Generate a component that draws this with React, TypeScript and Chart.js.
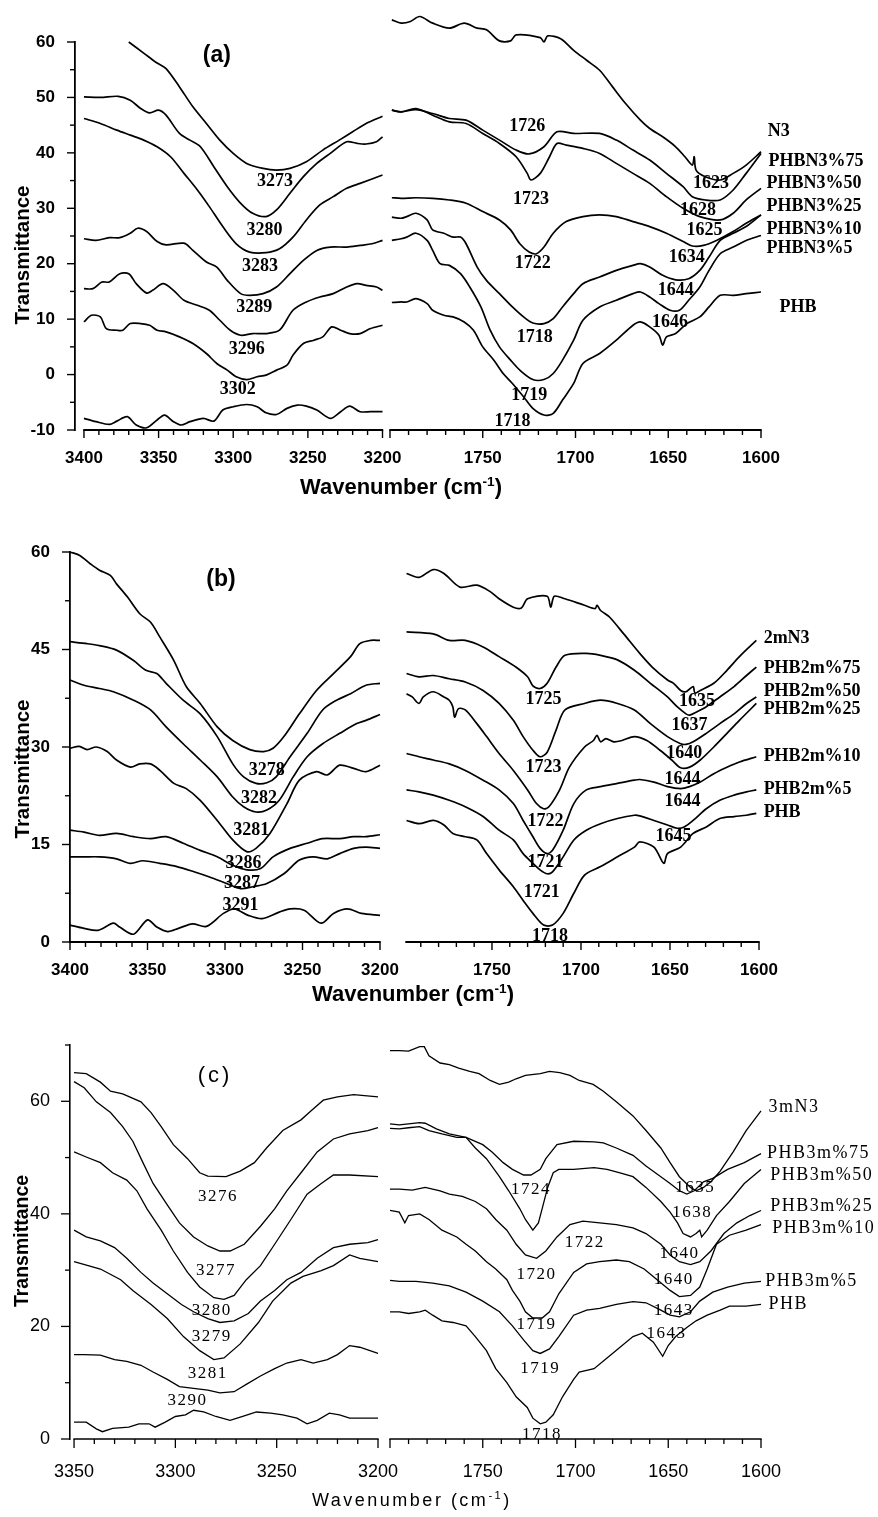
import React, { useEffect, useRef } from 'react';
import { Chart, registerables } from 'chart.js';

Chart.register(...registerables);

type Pt = [number, number];
type Lbl = [string, number, number];

// ---------------- Panel (a): 3400-3200 region ----------------
const A_L_N3: Pt[] = [[3370,60],[3360,58],[3351,56.2],[3345,55.2],[3336,51.9],[3327,48.3],[3318,45.3],[3309,42.3],[3300,39.9],[3291,38.1],[3280,37.2],[3271,36.9],[3262,37.2],[3251,38.4],[3240,40.5],[3229,42.3],[3220,43.8],[3211,45.3],[3200,46.6]];
const A_L_75: Pt[] = [[3400,50.1],[3389,50],[3377,50.2],[3369,49.5],[3362,48],[3356,47.2],[3350,47.7],[3345,46.8],[3336,43.5],[3329,42.3],[3322,41.1],[3313,37.5],[3304,33.9],[3295,30.9],[3287,29.1],[3278,28.5],[3271,29.7],[3262,32.7],[3253,35.7],[3244,38.1],[3235,39.9],[3224,42],[3217,41.7],[3211,41.6],[3204,42],[3200,42.9]];
const A_L_50: Pt[] = [[3400,46.2],[3389,45.3],[3378,44.1],[3369,43.2],[3360,42.3],[3351,41.1],[3342,39.3],[3333,36.3],[3324,33.3],[3316,30.3],[3307,26.7],[3298,23.6],[3289,22.1],[3278,22],[3269,22.7],[3260,24.8],[3251,27.9],[3242,30.6],[3233,32.1],[3224,33.6],[3215,34.5],[3200,36]];
const A_L_25: Pt[] = [[3400,24.5],[3392,24.2],[3383,24.7],[3376,24.7],[3369,25.5],[3364,26.4],[3358,25.8],[3351,24],[3345,23.4],[3333,23.7],[3327,22.4],[3318,20.3],[3311,19.4],[3304,17],[3295,14.6],[3289,14.3],[3280,14.6],[3271,15.8],[3262,18.2],[3253,20.6],[3244,22.4],[3235,23],[3224,23],[3215,23.3],[3207,23.6],[3200,24.2]];
const A_L_10: Pt[] = [[3400,15.5],[3394,15.5],[3388,16.7],[3383,16.7],[3376,18.2],[3370,18.2],[3365,16.4],[3358,14.7],[3354,15.2],[3347,16.4],[3340,15.2],[3333,13.4],[3324,12.5],[3316,11.6],[3309,9.8],[3302,8],[3295,7.1],[3287,7.4],[3278,7.4],[3269,8],[3260,11.6],[3251,13.1],[3242,14],[3233,14.6],[3224,15.8],[3217,16.4],[3211,16.1],[3204,15.8],[3200,15.2]];
const A_L_5: Pt[] = [[3400,9.5],[3395,10.7],[3389,10.4],[3385,8.3],[3378,8],[3374,8],[3369,9.2],[3362,9.2],[3356,8.9],[3351,8],[3345,7.7],[3336,6.8],[3327,5.6],[3318,3.8],[3311,2],[3304,0.8],[3298,-0.4],[3291,-0.9],[3284,-0.4],[3278,-0.1],[3271,0.8],[3264,1.7],[3260,3.5],[3253,5.6],[3246,6.2],[3240,6.8],[3234,8.6],[3228,8],[3222,7.4],[3215,7.4],[3208,8.3],[3200,8.9]];
const A_L_PHB: Pt[] = [[3400,-7.9],[3392,-8.5],[3383,-9],[3378,-8.4],[3371,-7.6],[3365,-9.1],[3358,-9.6],[3351,-8.2],[3346,-7.3],[3340,-8.5],[3335,-9.1],[3329,-8.5],[3320,-7.9],[3313,-8.4],[3307,-6.4],[3300,-5.8],[3291,-5.4],[3284,-5.8],[3278,-6.9],[3271,-7.2],[3264,-6.1],[3257,-5.5],[3251,-5.7],[3244,-6.4],[3235,-7.9],[3228,-6.7],[3222,-5.7],[3215,-6.7],[3208,-6.7],[3200,-6.7]];

// ---------------- Panel (a): 1800-1600 region ----------------
const A_R_N3: Pt[] = [[1799,64],[1794,63.4],[1789,63.7],[1784,64.6],[1777,63.4],[1768,62.5],[1760,63.4],[1753,62.5],[1748,62.2],[1741,60.2],[1735,60.2],[1732,61.3],[1719,60.8],[1717,60],[1715,61.1],[1708,60.6],[1701,58.5],[1694,56.7],[1687,54.9],[1680,51.9],[1673,48.9],[1665,45.9],[1660,44.4],[1653,42.9],[1646,41.1],[1641,39.3],[1637,37.8],[1636,39.3],[1635,36.9],[1630,35.7],[1622,35.1],[1615,36.3],[1608,37.8],[1600,40.2]];
const A_R_75: Pt[] = [[1799,47.7],[1794,47.4],[1786,47.8],[1777,47.1],[1768,46.2],[1759,45.9],[1750,44.1],[1741,42.3],[1732,40.5],[1725,39.8],[1717,41.1],[1710,43.8],[1701,43.5],[1687,43.5],[1678,42.3],[1669,40.5],[1660,38.7],[1651,36.3],[1642,33.9],[1637,32.1],[1630,31.5],[1622,31.5],[1615,33.3],[1608,36.3],[1600,39.9]];
const A_R_50: Pt[] = [[1799,47.7],[1794,47.4],[1786,48],[1777,46.8],[1768,45.6],[1759,45.3],[1750,43.5],[1741,41.7],[1732,39.3],[1726,36.3],[1724,35.1],[1719,36.3],[1714,39.3],[1710,41.7],[1705,41.4],[1696,40.8],[1687,39.9],[1678,38.1],[1669,36.3],[1660,34.5],[1651,32.1],[1642,30],[1633,28.5],[1622,27.9],[1615,29.1],[1608,31.5],[1600,33.6]];
const A_R_25: Pt[] = [[1799,31.9],[1794,31.8],[1786,31.9],[1777,31.8],[1768,31.5],[1759,30.9],[1750,29.4],[1741,27.9],[1735,26.1],[1730,23.6],[1725,22.1],[1721,21.8],[1717,23],[1712,25.5],[1705,27.6],[1696,28.5],[1687,28.8],[1678,28.5],[1669,27.6],[1660,26.7],[1651,25.5],[1642,24],[1637,23.2],[1631,23.3],[1624,24.2],[1615,25.8],[1608,27.3],[1600,28.8]];
const A_R_10: Pt[] = [[1799,28.4],[1794,28.2],[1791,28.5],[1786,29.1],[1780,27.9],[1777,26.1],[1771,25.5],[1766,24.8],[1762,24.8],[1759,23.6],[1753,19.4],[1748,17],[1741,14.6],[1734,12.2],[1728,10.4],[1723,9.3],[1717,9.2],[1712,10.1],[1707,12.2],[1701,14.6],[1696,16.4],[1687,17.6],[1678,18.8],[1669,19.7],[1665,20],[1660,19.4],[1653,17.9],[1646,17.1],[1639,17.3],[1633,18.8],[1628,21.2],[1622,24.2],[1615,25.5],[1608,26.7],[1600,28.8]];
const A_R_5: Pt[] = [[1799,24.2],[1794,24.5],[1791,24.8],[1786,25.5],[1780,24.2],[1777,22.4],[1773,20],[1768,19.7],[1762,18.2],[1757,15.8],[1751,12.2],[1746,8],[1741,5],[1735,2.6],[1730,0.8],[1723,-0.9],[1717,-0.9],[1712,0.2],[1707,2.6],[1701,6.2],[1696,9.8],[1687,12.2],[1678,13.4],[1669,14.6],[1665,14.9],[1660,14],[1655,12.8],[1649,11.6],[1644,11.6],[1639,13.4],[1633,15.8],[1628,18.8],[1622,21.8],[1615,23],[1608,24.2],[1600,25.1]];
const A_R_PHB: Pt[] = [[1799,13],[1794,13.1],[1791,13.1],[1786,13.7],[1780,12.8],[1777,11.6],[1771,10.7],[1766,10.4],[1760,9.5],[1755,8],[1750,5],[1744,2.6],[1739,0.2],[1734,-1.6],[1728,-4],[1723,-6.1],[1717,-7.3],[1712,-7],[1707,-4.6],[1701,-1.6],[1696,2],[1687,3.8],[1678,6.2],[1669,8.9],[1665,9.5],[1660,8.6],[1655,7.1],[1653,5.3],[1651,6.8],[1646,7.4],[1640,9.2],[1633,10.4],[1628,12.2],[1622,14.3],[1615,14.3],[1608,14.6],[1600,14.9]];

const A_L_PEAKS: Lbl[] = [['3273',3272,34.8],['3280',3279,26.1],['3283',3282,19.6],['3289',3286,12.1],['3296',3291,4.5],['3302',3297,-2.7]];
const A_R_PEAKS: Lbl[] = [['1726',1726,44.7],['1723',1724,31.6],['1722',1723,20],['1718',1722,6.7],['1719',1725,-3.7],['1718',1734,-8.4],['1623',1627,34.5],['1628',1634,29.7],['1625',1630.5,26.1],['1634',1640,21.2],['1644',1646,15.2],['1646',1649,9.5]];
const A_NAMES: Lbl[] = [['N3',1596.4,43.8],['PHBN3%75',1596,38.4],['PHBN3%50',1597,34.5],['PHBN3%25',1597,30.3],['PHBN3%10',1597,26.2],['PHBN3%5',1597,22.7],['PHB',1590,12.2]];

// ---------------- Panel (b): 3400-3200 region ----------------
const B_L_N3: Pt[] = [[3400,60],[3394,59.5],[3387,58.2],[3381,57.2],[3374,56.4],[3370,55.1],[3363,53.1],[3355,50.5],[3348,49.2],[3342,46.9],[3333,43.3],[3325,39.3],[3316,36.7],[3305,33.1],[3295,31],[3284,29.6],[3275,29.3],[3269,29.8],[3262,31.6],[3252,35.1],[3241,38.7],[3230,41.3],[3219,43.9],[3213,45.9],[3206,46.4],[3200,46.4]];
const B_L_75: Pt[] = [[3400,46.2],[3389,45.9],[3381,45.6],[3370,44.9],[3359,43.3],[3351,41.8],[3344,41.3],[3338,39.8],[3327,37.2],[3316,35.1],[3305,31.6],[3295,27.4],[3288,25.4],[3280,24.4],[3273,24.5],[3267,25.4],[3258,28.5],[3247,32.1],[3237,35.7],[3228,37.2],[3219,38.2],[3209,39.5],[3200,39.8]];
const B_L_50: Pt[] = [[3400,40.3],[3391,39.5],[3381,39],[3372,38.5],[3359,37.2],[3348,35.7],[3338,33.1],[3327,30.5],[3316,28],[3305,25.4],[3295,22.3],[3288,20.8],[3280,20],[3273,20.3],[3265,21.8],[3256,25.4],[3247,28.5],[3237,30.5],[3226,32.1],[3215,33.6],[3209,34.1],[3200,35]];
const B_L_25: Pt[] = [[3400,29.8],[3394,30.1],[3389,29.6],[3383,30],[3376,29.3],[3370,28],[3361,26.9],[3355,27.4],[3348,27.4],[3342,26.4],[3333,24.4],[3325,23.6],[3316,21.8],[3305,18.7],[3295,15.7],[3286,13.9],[3280,14.4],[3271,16.7],[3260,21.3],[3252,24.9],[3241,26.2],[3234,25.7],[3226,27.2],[3217,26.7],[3209,26.2],[3200,27.2]];
const B_L_10: Pt[] = [[3400,17.2],[3391,16.9],[3381,16.4],[3370,16.7],[3359,16.2],[3348,15.9],[3338,16.2],[3327,15.2],[3316,14.1],[3305,13.1],[3295,11.8],[3286,11.1],[3277,11.3],[3269,13.1],[3258,14.4],[3247,15.2],[3237,15.9],[3226,15.9],[3217,16.2],[3209,16.2],[3200,16.5]];
const B_L_5: Pt[] = [[3400,13.1],[3391,13.1],[3381,13.1],[3370,12.8],[3361,12.1],[3353,12.5],[3342,12.1],[3331,11.6],[3320,10.8],[3310,10],[3299,9],[3290,8.2],[3282,8.5],[3273,9],[3262,10.5],[3252,12.6],[3243,13.1],[3234,12.8],[3226,13.6],[3217,14.4],[3209,14.6],[3200,14.4]];
const B_L_PHB: Pt[] = [[3400,2.6],[3391,2.1],[3382,1.8],[3372,2.9],[3368,2.3],[3359,1.2],[3350,3.4],[3344,2.3],[3337,1.6],[3330,2.1],[3321,2.8],[3312,2.4],[3301,4.4],[3294,5.1],[3285,4.1],[3276,3.6],[3265,4.6],[3258,5.1],[3249,4.9],[3238,2.9],[3230,4.4],[3221,5.1],[3212,4.4],[3200,4.1]];

// ---------------- Panel (b): 1800-1600 region ----------------
const B_R_N3: Pt[] = [[1798,56.7],[1791,56.1],[1783,57.3],[1777,56.7],[1768,54.6],[1758.5,54.9],[1751,53.9],[1746,52.8],[1738,51.5],[1733.5,51.4],[1730,52.8],[1719,53.2],[1717,51.5],[1715,53.2],[1709,52.8],[1698,51.8],[1692,51.3],[1691,51.8],[1689,51],[1684,50],[1676,47.4],[1667,44.4],[1660,42.3],[1651.4,40.3],[1648,39.8],[1644,38.7],[1641,38.5],[1637,39.3],[1636,38.3],[1633,38.7],[1625.4,39.8],[1618,41.8],[1611,43.9],[1601.5,46.4]];
const B_R_75: Pt[] = [[1798,47.7],[1783,47.4],[1774,46.4],[1765,46.4],[1755,45.4],[1746,43.9],[1736.6,42.3],[1730,40.8],[1727,39.4],[1723,39],[1719,39.8],[1714,42.3],[1709,44.1],[1697,44.4],[1689,44.1],[1679.5,43.4],[1670,41.8],[1661,39.8],[1651.4,37.7],[1646,36.2],[1641,35.1],[1639,34.9],[1635,35.4],[1629.6,36.2],[1622,37.7],[1614,39.3],[1607,41],[1601.5,42.3]];
const B_R_50: Pt[] = [[1798,41.3],[1791,40.8],[1783,41],[1774,40.5],[1765,40],[1755,38.7],[1746,36.7],[1738,34.1],[1732.5,31.6],[1727,29.5],[1723,28.5],[1719,29.2],[1714,32.6],[1709,35.7],[1698,36.7],[1689,37.2],[1679.5,36.7],[1670,35.7],[1661,33.6],[1651.4,31.6],[1644,30.5],[1641,30.4],[1637,30.8],[1629.6,32.1],[1622,33.6],[1614,35.1],[1607,36.7],[1601.5,37.7]];
const B_R_25: Pt[] = [[1798,38.2],[1794.8,37.7],[1791,36.7],[1788.6,37.7],[1783,38.5],[1777,37.7],[1774,37.2],[1772,36.2],[1771,34.6],[1768.8,35.9],[1765,35.7],[1758.5,33.6],[1753,31.6],[1746,29],[1738,26.4],[1730,23.4],[1725,21.3],[1721,20.5],[1718,20.8],[1712,23.4],[1706.5,26.9],[1698,30],[1693,31],[1691,31.8],[1689,30.8],[1686,31.3],[1681.5,30.8],[1677,31],[1670,31.6],[1663,31],[1655.6,29.5],[1649,28],[1644,26.8],[1639,26.9],[1633,28],[1625.4,30],[1618,32.1],[1611,34.1],[1601.5,36.7]];
const B_R_10: Pt[] = [[1798,29],[1791,28.5],[1783,28],[1774,27.4],[1765,26.4],[1755,24.9],[1746,23.4],[1738,21.3],[1732.5,18.7],[1727,16.2],[1723,14.4],[1719,13.6],[1716,14.1],[1710,17.2],[1704,21.3],[1697,23.4],[1689,23.9],[1679.5,24.4],[1670,24.9],[1667,25],[1659,24.6],[1651.4,23.9],[1644,23.6],[1639,23.9],[1633,24.6],[1625.4,25.9],[1618,26.9],[1611,27.7],[1601.5,28.5]];
const B_R_5: Pt[] = [[1798,23.4],[1791,23.1],[1783,22.6],[1774,21.8],[1765,20.8],[1755,19.3],[1746,17.2],[1738,15.7],[1732.5,13.6],[1727,12.1],[1723,11.1],[1719,10.5],[1716,10.8],[1710,13.1],[1704,15.7],[1697,17.2],[1689,18.2],[1679.5,19],[1670,19.5],[1667,19.4],[1659,18.7],[1651.4,18],[1646,17.5],[1642,17.7],[1637,18.7],[1629.6,20.5],[1622,21.8],[1614,22.6],[1607,23.1],[1601.5,23.4]];
const B_R_PHB: Pt[] = [[1798,18.7],[1791,18.2],[1783,18.7],[1777,18],[1772,16.7],[1765,16.2],[1758.5,15.7],[1753,13.6],[1746,11.1],[1738,8.5],[1732.5,6.4],[1727,4.4],[1721,2.6],[1716,2.6],[1710,4.4],[1704,7.5],[1698,10.3],[1689,11.6],[1679.5,13.1],[1670,14.6],[1667,15.4],[1659,14.6],[1653.5,12.1],[1651.4,13.6],[1644,14.6],[1637,16.7],[1629.6,17.7],[1622,19],[1614,19.3],[1607,19.5],[1601.5,19.8]];

const B_L_PEAKS: Lbl[] = [['3278',3273,26.4],['3282',3278,22.1],['3281',3283,17.2],['3286',3288,12.1],['3287',3289,9],['3291',3290,5.7]];
const B_R_PEAKS: Lbl[] = [['1725',1721,37.3],['1723',1721,26.8],['1722',1720,18.6],['1721',1720,12.3],['1721',1722,7.7],['1718',1717.4,0.9],['1635',1634.8,37],['1637',1639,33.3],['1640',1642,29],['1644',1643,25.1],['1644',1643,21.6],['1645',1648,16.2]];
const B_NAMES: Lbl[] = [['2mN3',1597.4,46.7],['PHB2m%75',1597.4,42.1],['PHB2m%50',1597.4,38.6],['PHB2m%25',1597.4,35.8],['PHB2m%10',1597.4,28.5],['PHB2m%5',1597.4,23.5],['PHB',1597.4,19.9]];

// ---------------- Panel (c): 3350-3200 region ----------------
const C_L_N3: Pt[] = [[3350,65.1],[3344,64.9],[3337,63.4],[3332,61.8],[3326,61.3],[3317,59.9],[3312,58],[3307,55.5],[3301,52.3],[3294,49.8],[3288,47.3],[3284,46.7],[3275,46.6],[3268,47.6],[3261,49.1],[3255,51.7],[3247,54.8],[3238,56.7],[3233,58.3],[3227,60.2],[3220,60.8],[3212,61.2],[3200,60.8]];
const C_L_75: Pt[] = [[3350,63.5],[3345,62.4],[3339,59.9],[3332,58],[3326,55.5],[3321,52.9],[3316,49.1],[3311,45.4],[3304,41.6],[3298,38.4],[3291,35.9],[3284,34.3],[3278,33.4],[3273,33.4],[3266,34.6],[3258,37.8],[3251,40.9],[3245,44.1],[3238,47.3],[3230,51],[3222,53.3],[3214,54.2],[3205,54.8],[3200,55.3]];
const C_L_50: Pt[] = [[3350,51],[3344,50.1],[3337,49.1],[3331,47.3],[3324,46],[3319,44.1],[3314,40.9],[3307,37.1],[3301,33.4],[3294,29.6],[3288,27],[3281,25.1],[3276,24.8],[3271,25.5],[3265,28.3],[3258,30.8],[3251,34.6],[3243,39],[3235,43.5],[3228,45.4],[3222,46.9],[3214,46.9],[3200,46.6]];
const C_L_25: Pt[] = [[3350,37.1],[3344,35.9],[3337,35.2],[3330,34],[3324,32.1],[3317,29.6],[3311,27.7],[3304,25.8],[3297,23.9],[3291,22.6],[3284,21.4],[3278,20.7],[3271,21],[3264,22.3],[3258,24.5],[3251,26.4],[3245,28.3],[3238,29.6],[3230,32.1],[3222,34],[3214,34.6],[3205,34.9],[3200,35.4]];
const C_L_10: Pt[] = [[3350,31.5],[3337,30.2],[3327,28.3],[3321,26.4],[3312,23.9],[3304,21.4],[3296,18.2],[3288,15.7],[3281,14.1],[3276,14.4],[3268,16.9],[3259,20.7],[3252,24.5],[3243,27.7],[3237,28.9],[3228,29.9],[3222,30.8],[3214,32.7],[3209,32.1],[3200,31.5]];
const C_L_5: Pt[] = [[3350,15],[3345,15],[3337,14.9],[3330,14.1],[3324,13.8],[3317,13.1],[3311,11.9],[3304,10.6],[3298,9.3],[3291,9],[3284,8.7],[3278,8.2],[3271,8.4],[3265,9.7],[3258,11.2],[3251,12.5],[3245,13.5],[3238,14.1],[3232,13.5],[3225,14.1],[3220,15],[3214,16.6],[3209,16.3],[3200,15.2]];
const C_L_PHB: Pt[] = [[3350,3],[3344,3],[3339,1.8],[3336,1.3],[3331,1.9],[3323,2.1],[3318,2.7],[3313,2.7],[3310,2.1],[3305,3],[3300,4],[3295,4.3],[3291,5.1],[3286,4.8],[3280,4],[3273,3.3],[3266,4.1],[3260,4.8],[3253,4.6],[3247,4.3],[3240,3.7],[3235,2.7],[3230,3.3],[3224,4.6],[3219,4.3],[3214,3.7],[3200,3.7]];

// ---------------- Panel (c): 1800-1600 region ----------------
const C_R_N3: Pt[] = [[1800,69],[1795,69],[1790,68.9],[1784,69.7],[1781.5,69.7],[1779,68.1],[1773,66.8],[1768,66.5],[1763,65.9],[1757,65.3],[1752,64.9],[1746,63.7],[1741,63],[1736,63.4],[1732,64],[1727,64.6],[1719,64.9],[1714,65.3],[1708.5,65.1],[1703,64.6],[1698,63.7],[1690.5,63],[1685,61.8],[1678,59.9],[1669,57.4],[1662,54.8],[1654,51.7],[1649,49.1],[1644,46.6],[1638,44.7],[1635,44.1],[1631,44.7],[1627,45.7],[1622,47.6],[1615,51],[1608,54.8],[1600,58.3]];
const C_R_75: Pt[] = [[1800,56],[1795,55.8],[1790,56],[1784,56.2],[1781,56.1],[1775,55.1],[1768,54.2],[1759,53.6],[1750,52.3],[1745,51],[1739,49.1],[1734,47.9],[1728,46.9],[1724,46.9],[1719,47.9],[1716,49.8],[1710,52.3],[1701,52.9],[1690,52.8],[1685,52.6],[1678,51.7],[1669,50.4],[1662,48.5],[1654,46.6],[1649,45.4],[1644,44.1],[1640,43.5],[1636,44.1],[1631,45.7],[1626,46.3],[1618,47.9],[1609,49.1],[1600,50.7]];
const C_R_50: Pt[] = [[1800,55.2],[1795,55.1],[1790,55.3],[1784,55.5],[1779,54.8],[1772,54.2],[1764,53.6],[1759,53.6],[1754,51.7],[1748,49.8],[1741,46.6],[1736,44.1],[1730,40.9],[1727,39],[1723,37.1],[1720,38.4],[1718,40.9],[1715,44.7],[1712,47.3],[1709,47.9],[1701,47.9],[1690,48.2],[1683,47.9],[1676,47.3],[1669,46.6],[1662,44.7],[1654,42.2],[1649,40.3],[1645,38.4],[1642,36.5],[1638,35.9],[1635,36.5],[1633,37.1],[1632,35.9],[1629,37.1],[1624,39.7],[1617,42.2],[1609,45.4],[1600,47.9]];
const C_R_25: Pt[] = [[1800,44.4],[1795,44.4],[1788,44.2],[1781,44.7],[1773,44.1],[1768,43.5],[1761,43.1],[1754,42.2],[1748,40.9],[1743,39],[1737,37.1],[1732,34.6],[1727,32.7],[1721,32.1],[1716,33.4],[1710,35.9],[1703,38.1],[1696,38.7],[1687,38.4],[1678,38.1],[1669,37.5],[1662,36.5],[1654,34.6],[1649,32.7],[1644,31.5],[1638,31],[1633,31.5],[1627,33.4],[1620,36.5],[1613,38.4],[1606,39.7],[1600,40.6]];
const C_R_10: Pt[] = [[1800,40.6],[1795,40.3],[1792,38.4],[1790,39.7],[1784,40],[1779,39],[1772,37.1],[1764,35.9],[1759,34.6],[1754,33.4],[1748,31.5],[1743,30.2],[1737,28.3],[1734,26.4],[1730,24.5],[1727,22.6],[1723,21.5],[1718,21.5],[1714,22.6],[1709,25.8],[1701,29.6],[1694,31.1],[1687,31.5],[1678,31.8],[1671,31.5],[1663,30.2],[1656,28.3],[1649,26.4],[1644,25.3],[1638,25.5],[1633,27],[1629,30.2],[1624,34.6],[1617,36.2],[1608,37.1],[1600,38.1]];
const C_R_5: Pt[] = [[1800,28.2],[1795,28],[1786,28],[1777,27.7],[1768,27.2],[1759,26.1],[1750,24.5],[1741,22.6],[1734,20.1],[1728,17.6],[1723,15.7],[1719,15.2],[1714,16],[1709,18.2],[1701,22],[1694,22.9],[1687,23.2],[1678,23.9],[1669,24.4],[1662,24.2],[1654,22.9],[1649,22],[1644,21.7],[1638,22.6],[1633,24.5],[1626,26.1],[1618,27],[1609,27.7],[1600,28]];
const C_R_PHB: Pt[] = [[1800,22.6],[1795,22.6],[1790,22.3],[1784,22.6],[1781,22.9],[1777,22],[1772,21],[1766,20.7],[1759,20.1],[1754,18.2],[1748,15.7],[1743,12.5],[1737,10],[1732,7.5],[1726,5.6],[1723,3.7],[1719,2.7],[1716,3],[1712,4.3],[1707,7.5],[1701,10.6],[1698,11.9],[1690,12.5],[1683,14.4],[1676,16.3],[1669,18.2],[1664,18.8],[1658,17.2],[1653,14.7],[1650,16.6],[1646,18.2],[1640,19.8],[1635,21],[1629,22],[1622,22.9],[1617,23.6],[1608,23.6],[1600,23.9]];

const C_L_PEAKS: Lbl[] = [['3276',3279,43.1],['3277',3280,29.9],['3280',3282,22.9],['3279',3282,18.2],['3281',3284,11.6],['3290',3294,6.8]];
const C_R_PEAKS: Lbl[] = [['1724',1724,44.4],['1722',1695,34.9],['1720',1721,29.2],['1719',1721,20.4],['1719',1719,12.5],['1718',1718,0.8],['1635',1635.5,44.7],['1638',1637,40.2],['1640',1644,33],['1640',1647,28.3],['1643',1647,22.9],['1643',1651,18.8]];
const C_NAMES: Lbl[] = [['3mN3',1596,58.9],['PHB3m%75',1596.8,50.7],['PHB3m%50',1595,46.9],['PHB3m%25',1595,41.3],['PHB3m%10',1594,37.5],['PHB3m%5',1597.7,28],['PHB',1596,23.9]];

// ---------------- styles & layout ----------------
const SANS = '"Liberation Sans", Arial, Helvetica, sans-serif';
const SERIF = '"Liberation Serif", "Times New Roman", serif';

interface Sty {
  tickSize: number; tickWeight: string; xPad: number;
  peakFont: string; peakSp: string;
  nameFont: string; nameSp: string;
  tagFont: string; tagSp: string;
  line: number; tension: number; axisW: number; tickW: number; majorLen: number; minorLen: number;
}
const BOLD: Sty = {
  tickSize: 17, tickWeight: 'bold', xPad: 10,
  peakFont: `bold 18px ${SERIF}`, peakSp: '0px',
  nameFont: `bold 18px ${SERIF}`, nameSp: '0px',
  tagFont: `bold 23px ${SANS}`, tagSp: '0px',
  line: 1.7, tension: 0.3, axisW: 1.8, tickW: 1.4, majorLen: 8, minorLen: 5,
};
const PLAIN: Sty = {
  tickSize: 18, tickWeight: 'normal', xPad: 14,
  peakFont: `17px ${SERIF}`, peakSp: '1.5px',
  nameFont: `18px ${SERIF}`, nameSp: '1.5px',
  tagFont: `22px ${SANS}`, tagSp: '3px',
  line: 1.3, tension: 0, axisW: 1.6, tickW: 1.3, majorLen: 9, minorLen: 5,
};

interface PanelCfg {
  key: string; series: Pt[][];
  area: { l: number; r: number; t: number; b: number };
  xMin: number; xMax: number; xAxis: [number, number]; xLabelMax: number;
  yMin: number; yMax: number; yStep: number; yMinor: number; showY: boolean;
  peaks: Lbl[]; names: Lbl[]; tag?: Lbl; st: Sty;
}

const W = 878, H = 1517, WY = 65, HX = 40;

const PANELS: PanelCfg[] = [
  { key: 'aL', series: [A_L_N3, A_L_75, A_L_50, A_L_25, A_L_10, A_L_5, A_L_PHB], area: { l: 75, r: 382.5, t: 42, b: 430 },
    xMin: 3200, xMax: 3406, xAxis: [3200, 3400], xLabelMax: 3400, yMin: -10, yMax: 60, yStep: 10, yMinor: 5, showY: true,
    peaks: A_L_PEAKS, names: [], tag: ['(a)', 3311, 57.6], st: BOLD },
  { key: 'aR', series: [A_R_N3, A_R_75, A_R_50, A_R_25, A_R_10, A_R_5, A_R_PHB], area: { l: 390, r: 761, t: 42, b: 430 },
    xMin: 1600, xMax: 1800, xAxis: [1600, 1800], xLabelMax: 1750, yMin: -10, yMax: 60, yStep: 10, yMinor: 5, showY: false,
    peaks: A_R_PEAKS, names: A_NAMES, st: BOLD },
  { key: 'bL', series: [B_L_N3, B_L_75, B_L_50, B_L_25, B_L_10, B_L_5, B_L_PHB], area: { l: 70, r: 380, t: 552, b: 942 },
    xMin: 3200, xMax: 3400, xAxis: [3200, 3400], xLabelMax: 3400, yMin: 0, yMax: 60, yStep: 15, yMinor: 7.5, showY: true,
    peaks: B_L_PEAKS, names: [], tag: ['(b)', 3302.6, 55.7], st: BOLD },
  { key: 'bR', series: [B_R_N3, B_R_75, B_R_50, B_R_25, B_R_10, B_R_5, B_R_PHB], area: { l: 406, r: 759, t: 552, b: 942 },
    xMin: 1600, xMax: 1798.3, xAxis: [1600, 1798.3], xLabelMax: 1750, yMin: 0, yMax: 60, yStep: 15, yMinor: 7.5, showY: false,
    peaks: B_R_PEAKS, names: B_NAMES, st: BOLD },
  { key: 'cL', series: [C_L_N3, C_L_75, C_L_50, C_L_25, C_L_10, C_L_5, C_L_PHB], area: { l: 70, r: 378, t: 1045, b: 1439 },
    xMin: 3200, xMax: 3352, xAxis: [3200, 3350], xLabelMax: 3350, yMin: 0, yMax: 70, yStep: 20, yMinor: 10, showY: true,
    peaks: C_L_PEAKS, names: [], tag: ['(c)', 3280.4, 64.5], st: PLAIN },
  { key: 'cR', series: [C_R_N3, C_R_75, C_R_50, C_R_25, C_R_10, C_R_5, C_R_PHB], area: { l: 390, r: 761, t: 1045, b: 1439 },
    xMin: 1600, xMax: 1800, xAxis: [1600, 1800], xLabelMax: 1750, yMin: 0, yMax: 70, yStep: 20, yMinor: 10, showY: false,
    peaks: C_R_PEAKS, names: C_NAMES, st: PLAIN },
];

function makeDeco(c: PanelCfg) {
  const st = c.st;
  return {
    id: 'deco_' + c.key,
    afterDraw(chart: any) {
      const ctx: CanvasRenderingContext2D = chart.ctx;
      const ca = chart.chartArea;
      const xs = chart.scales.x;
      const ys = chart.scales.y;
      ctx.save();
      ctx.strokeStyle = '#000';
      ctx.lineWidth = st.axisW;
      const xa = xs.getPixelForValue(c.xAxis[0]);
      const xb = xs.getPixelForValue(c.xAxis[1]);
      ctx.beginPath();
      ctx.moveTo(Math.min(xa, xb) - st.tickW / 2, ca.bottom);
      ctx.lineTo(Math.max(xa, xb) + st.tickW / 2, ca.bottom);
      ctx.stroke();
      ctx.lineWidth = st.tickW;
      const lo = Math.min(c.xAxis[0], c.xAxis[1]);
      const hi = Math.max(c.xAxis[0], c.xAxis[1]);
      const first = Math.ceil(lo / 10) * 10;
      const nx = Math.floor((hi - first) / 10 + 1e-6);
      for (let i = 0; i <= nx; i++) {
        const v = first + i * 10;
        const major = v % 50 === 0;
        const px = xs.getPixelForValue(v);
        ctx.beginPath();
        ctx.moveTo(px, ca.bottom);
        ctx.lineTo(px, ca.bottom + (major ? st.majorLen : st.minorLen));
        ctx.stroke();
      }
      if (c.showY) {
        const ny = Math.round((c.yMax - c.yMin) / c.yMinor);
        for (let i = 0; i <= ny; i++) {
          const v = c.yMin + i * c.yMinor;
          const r = v / c.yStep;
          const major = Math.abs(r - Math.round(r)) < 1e-6;
          const py = ys.getPixelForValue(v);
          ctx.beginPath();
          ctx.moveTo(ca.left, py);
          ctx.lineTo(ca.left - (major ? st.majorLen : st.minorLen), py);
          ctx.stroke();
        }
      }
      ctx.fillStyle = '#000';
      ctx.textBaseline = 'middle';
      ctx.textAlign = 'center';
      ctx.font = st.peakFont;
      (ctx as any).letterSpacing = st.peakSp;
      for (const [t, x, y] of c.peaks) ctx.fillText(t, xs.getPixelForValue(x), ys.getPixelForValue(y));
      ctx.textAlign = 'left';
      ctx.font = st.nameFont;
      (ctx as any).letterSpacing = st.nameSp;
      for (const [t, x, y] of c.names) ctx.fillText(t, xs.getPixelForValue(x), ys.getPixelForValue(y));
      if (c.tag) {
        ctx.textAlign = 'center';
        ctx.font = st.tagFont;
        (ctx as any).letterSpacing = st.tagSp;
        ctx.fillText(c.tag[0], xs.getPixelForValue(c.tag[1]), ys.getPixelForValue(c.tag[2]));
      }
      ctx.restore();
    },
  };
}

function zeroPad(s: any) {
  s.paddingLeft = 0; s.paddingRight = 0; s.paddingTop = 0; s.paddingBottom = 0;
}

function stepValues(lo: number, hi: number, step: number) {
  const out: { value: number }[] = [];
  const first = Math.ceil(lo / step - 1e-9) * step;
  const n = Math.floor((hi - first) / step + 1e-9);
  for (let i = 0; i <= n; i++) out.push({ value: first + i * step });
  return out;
}

function buildChart(canvas: HTMLCanvasElement, c: PanelCfg) {
  const st = c.st;
  const wy = c.showY ? WY : 0;
  const font = { family: SANS, size: st.tickSize, weight: st.tickWeight as any };
  const xlo = Math.min(c.xAxis[0], c.xAxis[1]);
  const xhi = Math.min(Math.max(c.xAxis[0], c.xAxis[1]), c.xLabelMax);
  return new Chart(canvas, {
    type: 'line',
    data: {
      datasets: c.series.map((s) => ({
        data: s.map(([x, y]) => ({ x, y })),
        borderColor: '#000',
        borderWidth: st.line,
        pointRadius: 0,
        tension: st.tension,
        fill: false,
        clip: false as any,
      })),
    },
    options: {
      animation: false,
      responsive: false,
      devicePixelRatio: 1,
      events: [],
      layout: {
        autoPadding: false,
        padding: { left: c.area.l - wy, right: W - c.area.r, top: c.area.t, bottom: H - c.area.b - HX },
      },
      plugins: { legend: { display: false }, tooltip: { enabled: false }, title: { display: false } },
      scales: {
        x: {
          type: 'linear', reverse: true, min: c.xMin, max: c.xMax, position: 'bottom',
          border: { display: false }, grid: { display: false },
          ticks: {
            autoSkip: false, maxRotation: 0, minRotation: 0,
            padding: st.xPad, color: '#000', font,
            callback: (v: any) => String(v),
          },
          afterBuildTicks: (s: any) => { s.ticks = stepValues(xlo, xhi, 50); },
          afterFit: (s: any) => { s.height = HX; zeroPad(s); },
        },
        y: {
          type: 'linear', display: c.showY, min: c.yMin, max: c.yMax, position: 'left',
          border: { display: true, width: st.axisW, color: '#000' }, grid: { display: false },
          ticks: { padding: 12, color: '#000', font, callback: (v: any) => String(v) },
          afterBuildTicks: (s: any) => { s.ticks = stepValues(c.yMin, c.yMax, c.yStep); },
          afterFit: (s: any) => { s.width = wy; zeroPad(s); },
        },
      },
    },
    plugins: [makeDeco(c)],
  } as any);
}

export default function App() {
  const refs = useRef<(HTMLCanvasElement | null)[]>([]);
  useEffect(() => {
    const charts = PANELS.map((c, i) => buildChart(refs.current[i] as HTMLCanvasElement, c));
    return () => charts.forEach((ch) => ch.destroy());
  }, []);

  const yTitle = (cy: number, font: string) => (
    <div style={{ position: 'absolute', left: 22, top: cy, transform: 'translate(-50%,-50%) rotate(-90deg)', font, whiteSpace: 'nowrap', lineHeight: 1, color: '#000' }}>
      Transmittance
    </div>
  );
  const xTitle = (left: number, cy: number, font: string, sp: string) => (
    <div style={{ position: 'absolute', left, top: cy, transform: 'translateY(-50%)', font, letterSpacing: sp, whiteSpace: 'nowrap', lineHeight: 1, color: '#000' }}>
      Wavenumber (cm<span style={{ fontSize: '0.62em', position: 'relative', top: '-0.62em' }}>-1</span>)
    </div>
  );

  return (
    <div style={{ position: 'absolute', left: 0, top: 0, width: W, height: H, background: '#fff', overflow: 'hidden' }}>
      {PANELS.map((c, i) => (
        <canvas key={c.key} ref={(el) => { refs.current[i] = el; }} width={W} height={H}
          style={{ position: 'absolute', left: 0, top: 0, width: W, height: H }} />
      ))}
      {yTitle(255, `bold 20.5px ${SANS}`)}
      {yTitle(769, `bold 20.5px ${SANS}`)}
      {yTitle(1241, `bold 19.5px ${SANS}`)}
      {xTitle(300, 487, `bold 22px ${SANS}`, '0px')}
      {xTitle(312, 994, `bold 22px ${SANS}`, '0px')}
      {xTitle(312, 1500, `18px ${SANS}`, '2.5px')}
    </div>
  );
}
